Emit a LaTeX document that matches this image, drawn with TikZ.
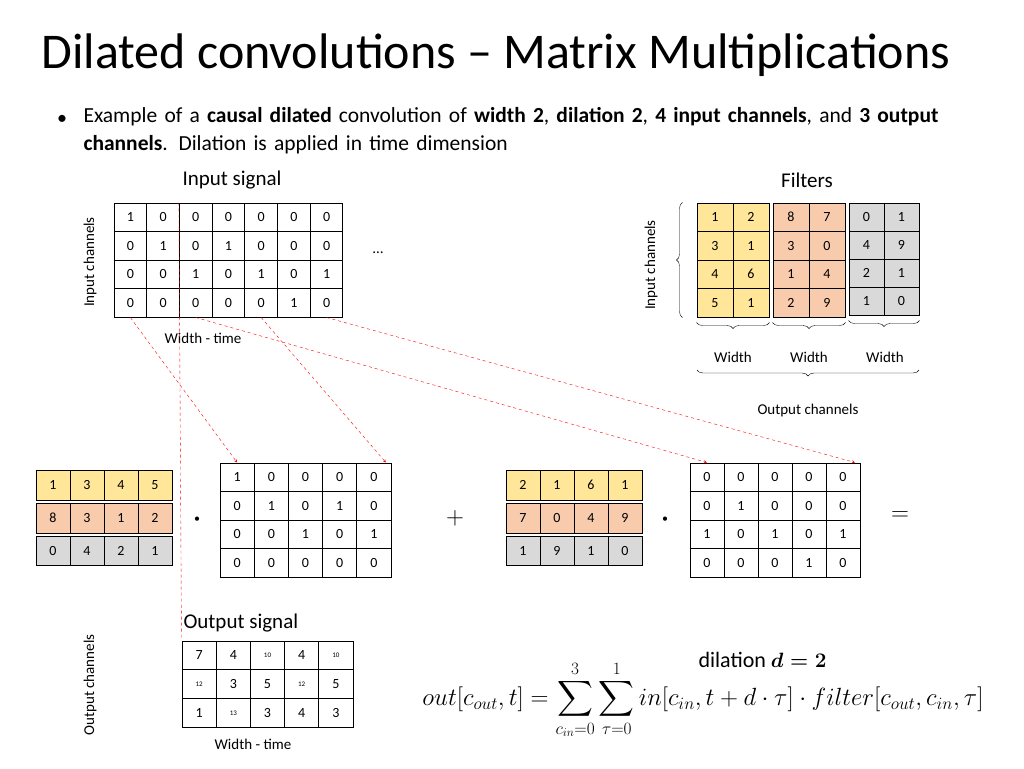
\documentclass[tikz,border=0pt]{standalone}
\usepackage{fontspec}
\setmainfont{Carlito}
\usepackage{amsmath}
\usetikzlibrary{decorations.pathreplacing,calc}
\definecolor{fyel}{HTML}{FFE699}
\definecolor{forg}{HTML}{F8CBAD}
\definecolor{fgry}{HTML}{D9D9D9}
\tikzset{
  cell/.style={draw,line width=1pt,inner sep=0pt,font=\fontsize{14pt}{16pt}\selectfont},
  lbl/.style={font=\fontsize{15pt}{17pt}\selectfont},
  big/.style={font=\fontsize{21pt}{25pt}\selectfont},
  dash arrow/.style={red,dashed,thin,-stealth},
  brc/.style={decorate,decoration={brace,amplitude=6pt},thin}}
% \grid{name}{x0}{y0}{cell w}{cell h}{fill}{rows}
\newcommand{\grid}[7]{%
  \foreach \row [count=\r] in {#7} {
    \foreach \v [count=\c] in \row {
      \node[cell,fill=#6,minimum width=#4pt,minimum height=#5pt]
        (#1-\r-\c) at ({#2+(\c-0.5)*#4},{-(#3+(\r-0.5)*#5)}) {\v};
    }
  }}
\begin{document}
\begin{tikzpicture}[x=1pt,y=1pt]
\useasboundingbox (0,0) rectangle (1024,-768);
\node[anchor=west,font=\fontsize{50pt}{54pt}\selectfont] (title) at (38,-55) {Dilated convolutions -- Matrix Multiplications};
\node[anchor=north west,text width=910pt,font=\fontsize{21.5pt}{28pt}\selectfont] (bullet) at (80,-104)
  {\raggedright Example of a \textbf{causal dilated} convolution of \textbf{width 2}, \textbf{dilation 2}, \textbf{4 input channels}, and \textbf{3 output channels}. Dilation is applied in time dimension\par};
\node[font=\fontsize{20pt}{24pt}\selectfont] at (62,-120) {\textbullet};
% input signal
\node[big] (insig) at (232,-180) {Input signal};
\grid{in}{114}{203}{32.7}{28.5}{white}{{1,0,0,0,0,0,0},{0,1,0,1,0,0,0},{0,0,1,0,1,0,1},{0,0,0,0,0,1,0}}
\node[lbl,rotate=90] (inch) at (90,-262) {Input channels};
\node[lbl] (wt) at (203,-338) {Width - time};
\node[lbl] (dots) at (378,-253) {\dots};
% filters
\node[big] (filt) at (807,-180) {Filters};
\grid{fa}{697}{203}{36}{28.5}{fyel}{{1,2},{3,1},{4,6},{5,1}}
\grid{fb}{773}{203}{36}{28.5}{forg}{{8,7},{3,0},{1,4},{2,9}}
\grid{fc}{849}{203}{35}{28}{fgry}{{0,1},{4,9},{2,1},{1,0}}
\draw[brc] ($(fa-4-1.south west)+(-14,0)$) -- ($(fa-1-1.north west)+(-14,0)$);
\node[lbl,rotate=90] (finch) at (651,-265) {Input channels};
\foreach \g/\x in {fa/733,fb/809,fc/885} {
  \draw[brc] ($(\g-4-2.south east)+(0,-5)$) -- ($(\g-4-1.south west)+(0,-5)$);
  \node[lbl] (\g-w) at (\x,-357) {Width};
}
\draw[brc] (919,-370) coordinate (ocr) -- (697,-370) coordinate (ocl);
\node[lbl] (outch) at (808,-410) {Output channels};
% first product
\grid{wa}{36}{470}{34}{30}{fyel}{{1,3,4,5}}
\grid{wb}{36}{503}{34}{30}{forg}{{8,3,1,2}}
\grid{wc}{36}{536}{34}{29}{fgry}{{0,4,2,1}}
\node[font=\fontsize{12pt}{14pt}\selectfont] (dot1) at (197,-520) {\textbullet};
\grid{ma}{220}{463}{34.2}{28.5}{white}{{1,0,0,0,0},{0,1,0,1,0},{0,0,1,0,1},{0,0,0,0,0}}
\node[font=\fontsize{36pt}{40pt}\selectfont] (plus) at (455,-518) {$+$};
% second product
\grid{va}{506}{470}{34}{30}{fyel}{{2,1,6,1}}
\grid{vb}{506}{503}{34}{30}{forg}{{7,0,4,9}}
\grid{vc}{506}{536}{34}{29}{fgry}{{1,9,1,0}}
\node[font=\fontsize{12pt}{14pt}\selectfont] (dot2) at (665,-520) {\textbullet};
\grid{mb}{690}{463}{34}{28.5}{white}{{0,0,0,0,0},{0,1,0,0,0},{1,0,1,0,1},{0,0,0,1,0}}
\node[font=\fontsize{36pt}{40pt}\selectfont] (eq) at (900,-516) {$=$};
% output signal
\node[big,anchor=west] (outsig) at (180,-623) {Output signal};
\grid{out}{182}{641}{34.2}{28.7}{white}{{7,4,{\scriptsize 10},4,{\scriptsize 10}},{{\scriptsize 12},3,5,{\scriptsize 12},5},{1,{\scriptsize 13},3,4,3}}
\node[lbl,rotate=90] (ouch) at (90,-685) {Output channels};
\node[lbl] (owt) at (253,-744) {Width - time};
% connectors
\draw[dash arrow] (in-4-1.south) -- (ma-1-1.north);
\draw[dash arrow] (in-4-5.south) -- ($(ma-1-5.north)+(12,0)$);
\draw[dash arrow] (in-4-3.south) -- (mb-1-1.north);
\draw[dash arrow] (in-4-7.south) -- ($(mb-1-5.north)+(12,0)$);
\draw[red,dashed,thin] (in-1-3.north west) -- (out-1-1.north west);
% formula
\node[anchor=west,font=\fontsize{22pt}{26pt}\selectfont] (dil) at (695,-660) {dilation $\boldsymbol{d=2}$};
\node[font=\fontsize{25pt}{30pt}\selectfont] (form) at (703,-700)
  {$\displaystyle out[c_{out},t]=\sum_{c_{in}=0}^{3}\sum_{\tau=0}^{1} in[c_{in},t+d\cdot\tau]\cdot filter[c_{out},c_{in},\tau]$};
\end{tikzpicture}
\end{document}
